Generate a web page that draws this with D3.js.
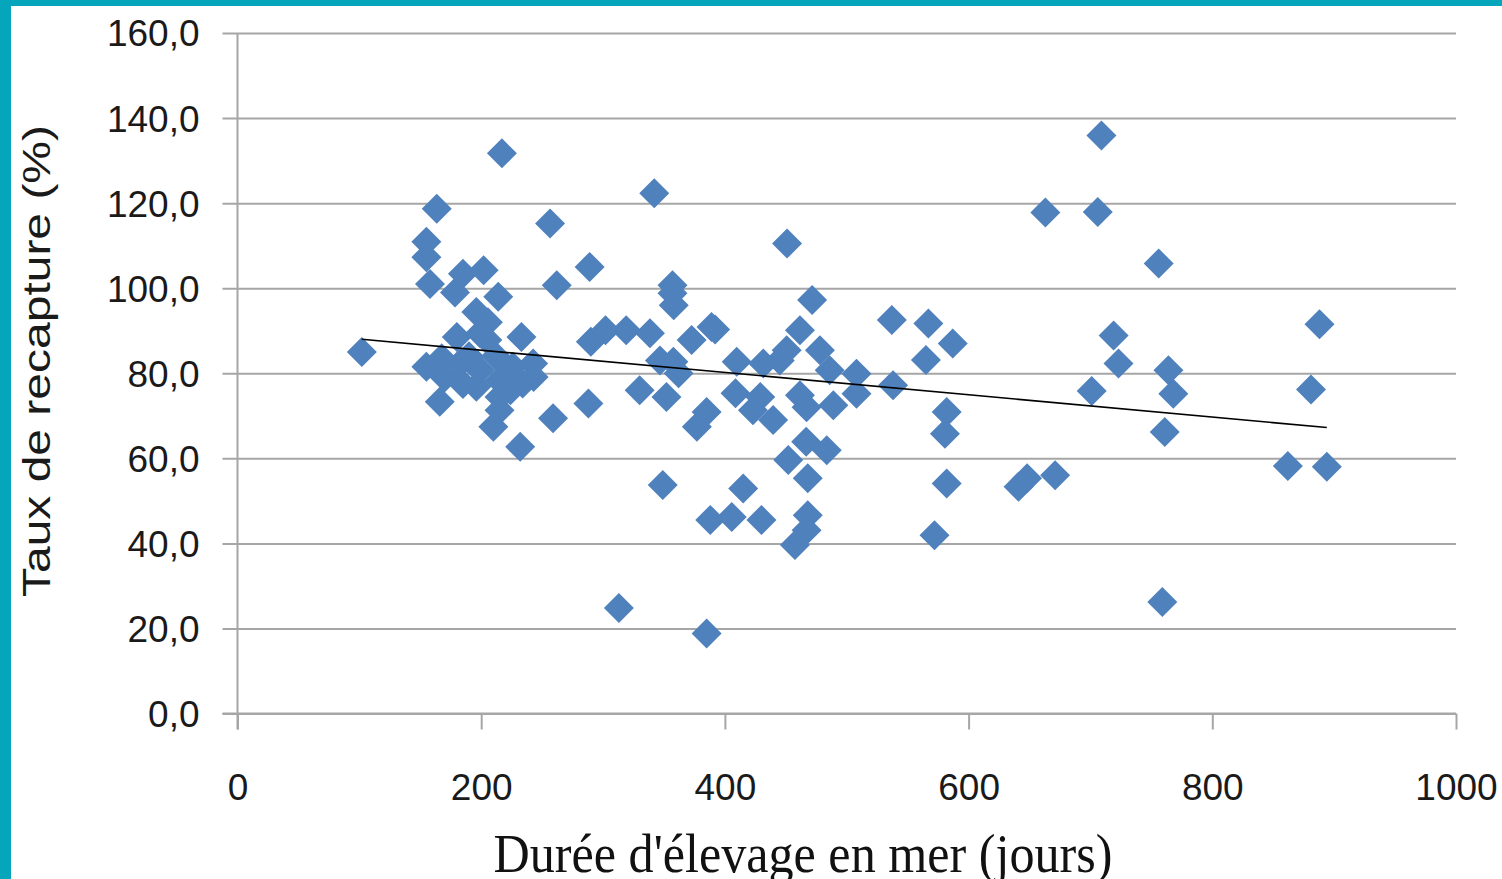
<!DOCTYPE html>
<html lang="fr">
<head>
<meta charset="UTF-8">
<title>Taux de recapture</title>
<script src="https://d3js.org/d3.v7.min.js"></script>
<style>
  html, body { margin: 0; padding: 0; background: #fff; }
  svg { display: block; }
</style>
</head>
<body>
<svg id="chart" width="1502" height="879"></svg>
<script>
// durée d'élevage (jours), taux de recapture (%)
const duree = [102,155,155,163.5,158,155,166,167.6,170,
  185,202,178.5,214,196,205.5,199,180,233,205,
  242.6,182.6,199,215,234,243,226,196,215,224,185,215,210,232,259,212,190,
  256.5,262,217,289,
  288,290,302,319,338.5,342,
  357,357,358,346.7,357.7,362,330,352,349,313,
  372.7,389,392,377,385,385,388,
  405.6,409.7,408.7,415,423,429,431.5,430,439.6,445,450.7,451,
  461.6,461.6,467,471.6,478,486,489,508,508,466.7,483.6,452,468,468,467,457.5,
  537,567,587,565,538,582,580.6,582,572,
  641,648,671,663,706,709,719,723,701,
  756,764,768,761,759,
  888,881,862,894];
const taux = [85,110.9,107.3,118.7,101,81.5,73.3,83.5,79,
  103.4,104.2,99,98,94.4,92,89.4,88.5,88.5,87.8,
  82.3,82.3,80.7,78.3,77.6,79.1,81.5,76.8,74.4,76,77.5,71.3,67.4,62.7,69.4,84,84,
  115.2,100.7,131.7,105,
  72.9,87.4,90.1,90.1,89.4,122.3,
  100.7,98.8,96,83,82.7,80,76,74.4,53.7,24.8,
  87.8,90.9,90.3,67.4,70.9,18.8,45.5,
  46.2,82.7,75.3,52.9,71.3,74.4,82.3,45.5,69,83,85.4,110.5,
  90.1,74.8,72,97.2,85.4,80.7,72.5,79.9,75.2,63.9,61.9,59.6,55.3,46.6,43.1,39.6,
  92.5,91.7,87,83.1,77.2,70.9,65.8,54.1,41.9,
  53.3,55.3,56,117.8,117.9,135.9,88.9,82.3,75.8,
  105.8,80.7,75.2,66.2,26.2,
  91.5,76.2,58.2,58];

const xTicks = [0, 200, 400, 600, 800, 1000];
const yTicks = [0, 20, 40, 60, 80, 100, 120, 140, 160];

// courbe de tendance linéaire
const trendSlope = -0.0262;
const trendIntercept = 90.66;

const svg = d3.select("#chart");
const W = 1502, H = 879;

// cadre turquoise
svg.append("rect").attr("x", 0).attr("y", 0).attr("width", W).attr("height", H).attr("fill", "#05a6bc");
svg.append("rect").attr("x", 11).attr("y", 6).attr("width", W - 11).attr("height", H - 6).attr("fill", "#fff");

const x = d3.scaleLinear().domain([0, 1000]).range([237.5, 1456]);
const y = d3.scaleLinear().domain([0, 160]).range([713.5, 33]);

const grid = "#a6a6a6";

// lignes de quadrillage + graduations Y
const yAxis = d3.axisLeft(y).tickValues(yTicks)
  .tickSize(-(x(1000) - x(0)))
  .tickFormat(d => d3.format(".1f")(d).replace(".", ","));
const gy = svg.append("g").attr("transform", `translate(${x(0)},0)`).call(yAxis);
gy.select(".domain").remove();
gy.selectAll(".tick line").attr("stroke", grid).attr("stroke-width", 2).attr("x1", -15);
gy.selectAll(".tick text").attr("x", -38).attr("dy", "0.35em")
  .attr("font-family", "'Liberation Sans', Arial, sans-serif").attr("font-size", 37).attr("fill", "#1a1a1a");

// axe X
const xAxis = d3.axisBottom(x).tickValues(xTicks).tickSize(16).tickFormat(d3.format("d"));
const gx = svg.append("g").attr("transform", `translate(0,${y(0)})`).call(xAxis);
gx.select(".domain").attr("stroke", grid).attr("stroke-width", 2).attr("d", `M${x(0) - 15},0H${x(1000)}`);
gx.selectAll(".tick line").attr("stroke", grid).attr("stroke-width", 2);
gx.selectAll(".tick text").attr("y", 86).attr("dy", 0)
  .attr("font-family", "'Liberation Sans', Arial, sans-serif").attr("font-size", 37).attr("fill", "#1a1a1a");

// axe vertical
svg.append("line").attr("x1", x(0)).attr("x2", x(0)).attr("y1", y(160)).attr("y2", y(0) + 16)
  .attr("stroke", grid).attr("stroke-width", 2);

// points
const pts = duree.map((d, i) => ({ x: d, y: taux[i] }));
const diamond = d3.symbol().type(d3.symbolSquare).size(450);
svg.append("g").selectAll("path").data(pts).enter().append("path")
  .attr("d", diamond)
  .attr("transform", d => `translate(${x(d.x)},${y(d.y)}) rotate(45)`)
  .attr("fill", "#4f81bd");

// tendance
const xr = d3.extent(duree);
svg.append("line")
  .attr("x1", x(xr[0])).attr("y1", y(trendIntercept + trendSlope * xr[0]))
  .attr("x2", x(xr[1])).attr("y2", y(trendIntercept + trendSlope * xr[1]))
  .attr("stroke", "#000").attr("stroke-width", 1.6);

// titres
svg.append("text")
  .attr("transform", `translate(50,361) rotate(-90)`)
  .attr("text-anchor", "middle")
  .attr("font-family", "'Liberation Sans', Arial, sans-serif").attr("font-size", 38).attr("fill", "#1a1a1a")
  .attr("textLength", 472).attr("lengthAdjust", "spacingAndGlyphs")
  .text("Taux de recapture (%)");

svg.append("text")
  .attr("x", 803).attr("y", 872)
  .attr("text-anchor", "middle")
  .attr("font-family", "'Liberation Serif', 'Times New Roman', serif").attr("font-size", 54).attr("fill", "#111")
  .attr("textLength", 619).attr("lengthAdjust", "spacingAndGlyphs")
  .text("Durée d'élevage en mer (jours)");
</script>
</body>
</html>
